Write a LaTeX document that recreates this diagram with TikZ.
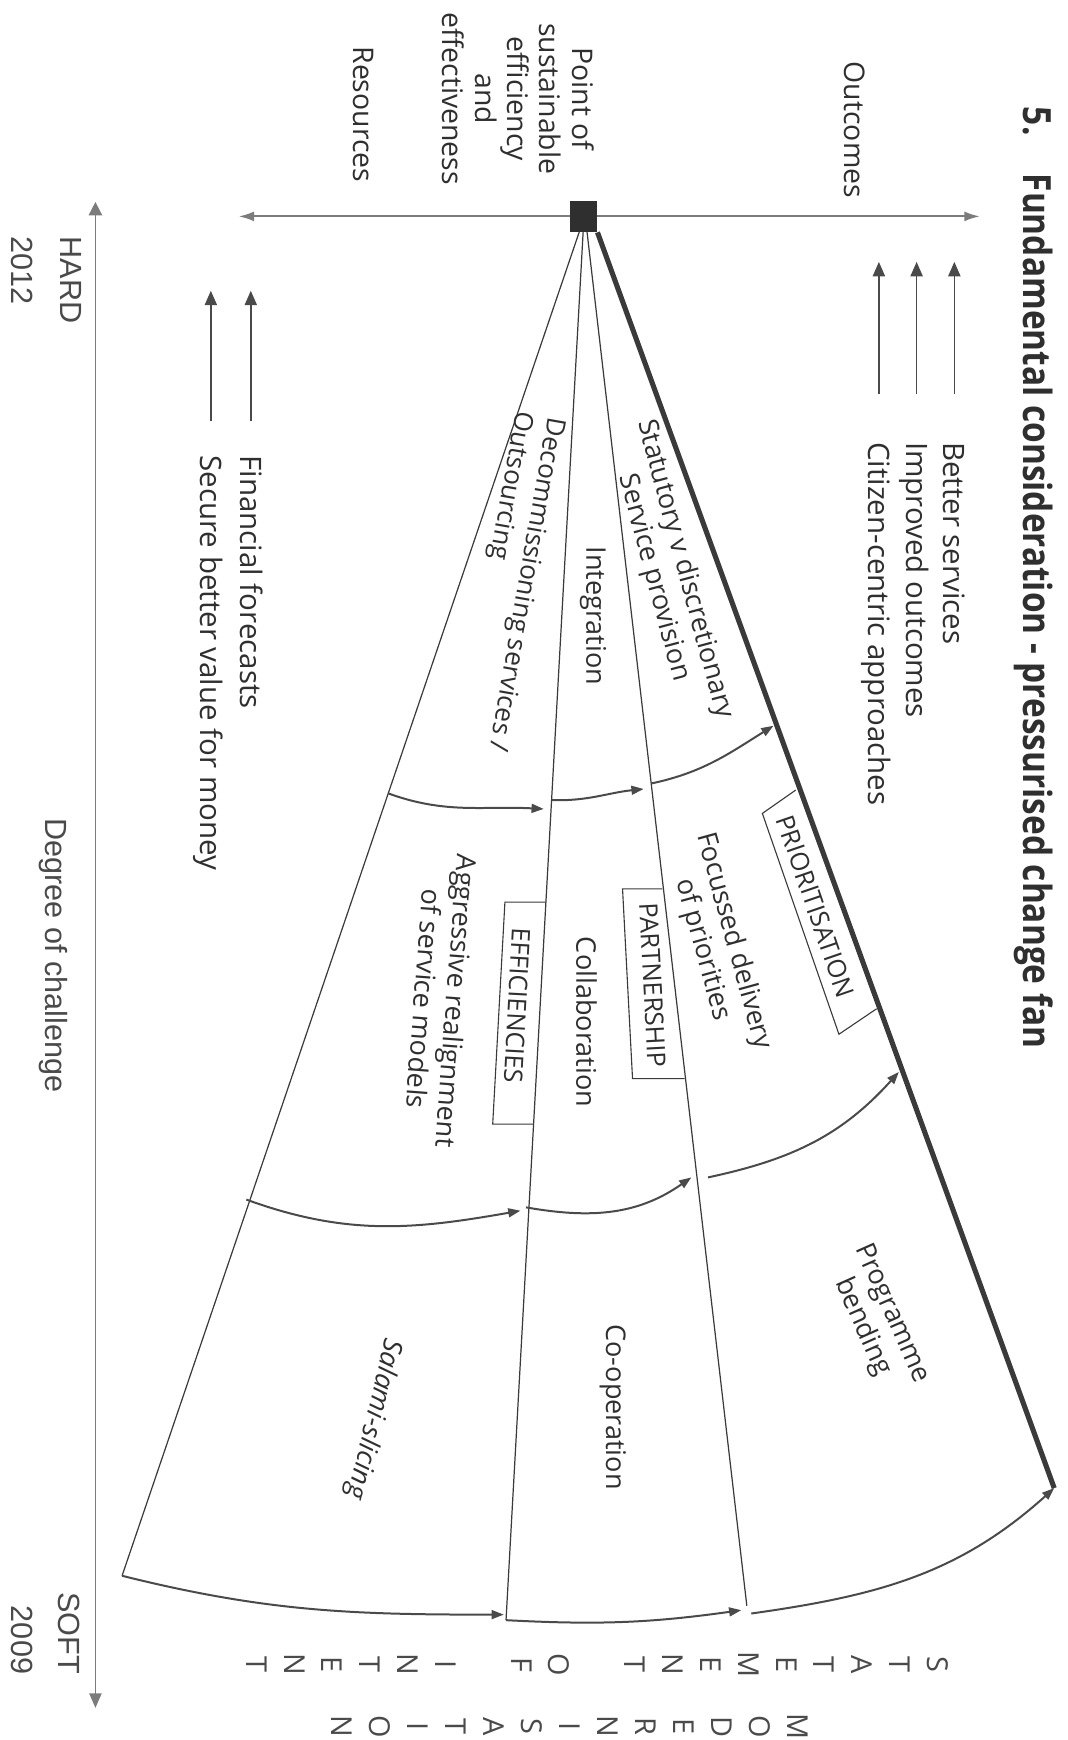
\documentclass[tikz,border=0pt]{standalone}
\usepackage{fontspec}
\usepackage{graphicx}
\setmainfont{Open Sans}
\newfontfamily\helvfont{Liberation Sans}
\usetikzlibrary{arrows.meta}
\definecolor{ink}{HTML}{2F2F2F}
\definecolor{softink}{HTML}{4A4A4A}
\definecolor{rayline}{HTML}{3A3A3A}
\definecolor{axisline}{HTML}{7C7C7C}

\begin{document}
\begin{tikzpicture}[x=0.5pt,y=-0.5pt,
  base/.style={inner sep=0pt,text=ink},
  body/.style={base,font=\fontsize{12.2}{14.5}\selectfont},
  single/.style={text height=8.7pt,text depth=0pt},
  legtext/.style={base,font=\fontsize{13.3}{15}\selectfont,text height=9.5pt,text depth=0pt,anchor=west,rotate=-90},
  toplabel/.style={base,font=\fontsize{12.8}{14.6}\selectfont,rotate=-90},
  capsbox/.style={base,font=\fontsize{11.5}{13}\selectfont,text height=8.2pt,text depth=0pt},
  boxline/.style={draw=rayline,line width=0.5pt},
  helv/.style={inner sep=0pt,text=softink,font=\helvfont\fontsize{13.8}{16}\selectfont,text height=9.9pt,text depth=0pt,rotate=-90},
  letter/.style={base,text=softink,font=\fontsize{13}{15}\selectfont,text height=9.3pt,text depth=0pt,rotate=-90},
  ray/.style={draw=rayline,line width=0.55pt},
  rim/.style={draw=rayline,line width=2.3pt},
  ring/.style={draw=softink,line width=0.9pt,-{Triangle[length=5.5pt,width=4pt]}},
  legarrow/.style={draw=softink,line width=0.7pt,-{Triangle[length=6.5pt,width=5.5pt]}},
]
\useasboundingbox (0,0) rectangle (962,1568);

% title
\node[base,font=\fontsize{17.5}{20}\selectfont\bfseries,text height=12.5pt,text depth=0pt,anchor=west,rotate=-90] (title) at (935,96)
  {\scalebox{0.86}[1]{5.\hspace{20pt}Fundamental consideration - pressurised change fan}};

% labels of the horizontal axis
\node[toplabel,text height=9.1pt,text depth=0pt] (outcomes) at (770,117) {Outcomes};
\node[toplabel,align=center] (pointlab) at (467,89) {Point of\\sustainable\\efficiency\\and\\effectiveness};
\node[toplabel,text height=9.1pt,text depth=0pt] (resources) at (328,103) {Resources};

% horizontal axis and the point of sustainable efficiency
\coordinate (resTip) at (215,195);
\coordinate (outTip) at (883,195);
\draw[draw=axisline,line width=0.95pt,{Latex[length=7pt,width=4.5pt]}-{Latex[length=7pt,width=4.5pt]}] (resTip) -- (outTip);
\node[fill=ink,minimum width=12pt,minimum height=14pt,inner sep=0pt] (apex) at (526,195) {};

% legends with upward arrows
\node[legtext] (better) at (860,398) {Better services};
\node[legtext] (improved) at (826,398) {Improved outcomes};
\node[legtext] (citizen) at (792,398) {Citizen-centric approaches};
\node[legtext] (financial) at (226,410) {Financial forecasts};
\node[legtext] (secure) at (190,410) {Secure better value for money};
\draw[legarrow] ([yshift=21.5pt]better.west) -- ([yshift=81pt]better.west);
\draw[legarrow] ([yshift=21.5pt]improved.west) -- ([yshift=81pt]improved.west);
\draw[legarrow] ([yshift=21.5pt]citizen.west) -- ([yshift=81pt]citizen.west);
\draw[legarrow] ([yshift=15.5pt]financial.west) -- ([yshift=74pt]financial.west);
\draw[legarrow] ([yshift=15.5pt]secure.west) -- ([yshift=74pt]secure.west);

% fan rays
\coordinate (o1) at (522,209);
\coordinate (o2) at (525.5,209);
\coordinate (o3) at (529,209);
\coordinate (r1) at (110,1420);
\coordinate (r2) at (456,1460);
\coordinate (r3) at (673,1447);
\coordinate (r4) at (950,1341);
\draw[ray] (o1) -- (r1);
\draw[ray] (o2) -- (r2);
\draw[ray] (o3) -- (r3);

% first ring
\coordinate (p1a) at (350,715);
\coordinate (p1b) at (490,729);
\coordinate (p1c) at (497,721);
\coordinate (p1d) at (580,711);
\coordinate (p1e) at (587,706);
\coordinate (p1f) at (697,654);
\draw[ring] (p1a) to[out=-20,in=177] (p1b);
\draw[ring] (p1c) to[out=-2,in=186] (p1d);
\draw[ring] (p1e) to[out=12,in=212] (p1f);

% second ring
\coordinate (p2a) at (222,1081);
\coordinate (p2b) at (469,1091);
\coordinate (p2c) at (474,1088);
\coordinate (p2d) at (623,1061);
\coordinate (p2e) at (638,1061);
\coordinate (p2f) at (810,966);
\draw[ring] (p2a) to[out=-20,in=190] (p2b);
\draw[ring] (p2c) to[out=-10,in=215] (p2d);
\draw[ring] (p2e) to[out=12,in=228] (p2f);

% outer rim
\coordinate (p3b) at (454,1455);
\coordinate (p3d) at (668,1451);
\coordinate (p3e) at (677,1454);
\draw[ring] (r1) to[out=-14,in=180] (p3b);
\draw[ring] (r2) to[out=-3,in=188] (p3d);
\draw[ring] (p3e) to[out=8,in=222] (r4);

% heavy edge of the fan
\draw[rim] (apex.south east) -- (r4);

% open boxes leaning on the fan lines
\draw[boxline] (717,712) -- (687,733) -- (756,932) -- (790,909);
\draw[boxline] (597,801) -- (561,801) -- (570,972) -- (617,972);
\draw[boxline] (492,813) -- (455,813) -- (444,1013) -- (481,1013);

% texts inside the fan
\node[body,align=center,rotate=-75] (statutory) at (603,517) {Statutory v discretionary\\Service provision};
\node[body,single,rotate=-90] (integration) at (537,555) {Integration};
\node[body,align=left,rotate=-100,font=\fontsize{11.8}{14.5}\selectfont] (decom) at (459,524) {Decommissioning services /\\Outsourcing};
\node[capsbox,rotate=-71] (prioritisation) at (735,817) {PRIORITISATION};
\node[body,align=center,rotate=-74.6] (focussed) at (647,852) {Focussed delivery\\of priorities};
\node[capsbox,rotate=-87] (partnership) at (588,888) {PARTNERSHIP};
\node[body,single,rotate=-90] (collab) at (528,921) {Collaboration};
\node[capsbox,rotate=-93] (efficiencies) at (466,906) {EFFICIENCIES};
\node[body,align=center,rotate=-94.3] (aggressive) at (397,901) {Aggressive realignment\\of service models};
\node[body,align=center,rotate=-66] (programme) at (790,1190) {Programme\\bending};
\node[body,single,rotate=-90] (coop) at (555,1268) {Co-operation};
\node[body,single,rotate=-103.5,font=\fontsize{12.2}{14.5}\selectfont\itshape] (salami) at (339,1279) {Salami-slicing};

% degree of challenge axis
\coordinate (hardTip) at (86,182);
\coordinate (softTip) at (86,1539);
\draw[draw=axisline,line width=0.7pt,{Triangle[length=6pt,width=6pt]}-{Triangle[length=6.5pt,width=5.5pt]}] (hardTip) -- (softTip);
\node[helv,anchor=west] (hard) at (64,213) {HARD};
\node[helv,anchor=west] (yrA) at (20.5,213) {2012};
\node[helv,anchor=east] (soft) at (63,1509) {SOFT};
\node[helv,anchor=east] (yrB) at (20,1509) {2009};
\node[helv] (degree) at (51,861) {Degree of challenge};

% spaced capitals along the bottom
\foreach \k/\ch in {0/S,1/T,2/A,3/T,4/E,5/M,6/E,7/N,8/T,10/O,11/F,13/I,14/N,15/T,16/E,17/N,18/T}
  \node[letter] (sa\k) at ({845-34.1*\k},1500) {\ch};
\foreach \k/\ch in {0/M,1/O,2/D,3/E,4/R,5/N,6/I,7/S,8/A,9/T,10/I,11/O,12/N}
  \node[letter] (sb\k) at ({719-34.25*\k},1556) {\ch};
\end{tikzpicture}
\end{document}
